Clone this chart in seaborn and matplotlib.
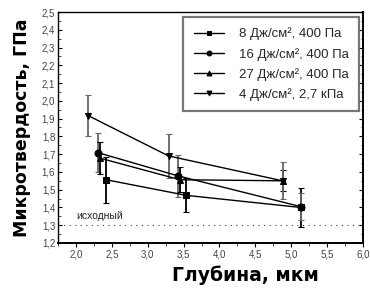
import matplotlib
matplotlib.use("Agg")
import matplotlib.pyplot as plt
import seaborn as sns
import pandas as pd
from matplotlib.ticker import MultipleLocator, FuncFormatter

sns.set_theme(style="ticks")
plt.rcParams['font.family'] = ['Liberation Sans', 'DejaVu Sans']

labels = ["8 Дж/см², 400 Па", "16 Дж/см², 400 Па",
          "27 Дж/см², 400 Па", "4 Дж/см², 2,7 кПа"]
x1 = [2.42, 3.54, 5.13]; y1 = [1.556, 1.468, 1.40]; e1 = [0.13, 0.095, 0.11]
x2 = [2.31, 3.42, 5.13]; y2 = [1.708, 1.578, 1.405]; e2 = [0.11, 0.12, 0.075]
x3 = [2.33, 3.45, 4.88]; y3 = [1.678, 1.556, 1.55]; e3 = [0.09, 0.07, 0.06]
x4 = [2.17, 3.29, 4.88]; y4 = [1.917, 1.69, 1.55]; e4 = [0.115, 0.125, 0.105]
baseline = 1.3

xs = [x1, x2, x3, x4]; ys = [y1, y2, y3, y4]; es = [e1, e2, e3, e4]
rows = []
for lab, xx, yy, ee in zip(labels, xs, ys, es):
    for a, b, c in zip(xx, yy, ee):
        rows.append({"x": a, "y": b, "err": c, "series": lab})
df = pd.DataFrame(rows)

fig = plt.figure(figsize=(3.7, 2.91), dpi=100)
ax = fig.add_axes([58 / 370, 1 - 243 / 291, 305 / 370, 231 / 291])

ecolors = ["black", "#666666", "black", "#666666"]
for lab, ec in zip(labels, ecolors):
    d = df[df.series == lab]
    ax.errorbar(d.x, d.y, yerr=d.err, fmt='none', ecolor=ec, elinewidth=1.3,
                capsize=2.2, capthick=0.8, zorder=2)

markers = {labels[0]: 's', labels[1]: 'o', labels[2]: '^', labels[3]: 'v'}
sns.lineplot(data=df, x="x", y="y", hue="series", style="series",
             markers=markers, dashes=False, sort=False, estimator=None,
             palette=["black"] * 4, linewidth=1.0, markersize=5,
             markeredgecolor="black", ax=ax, zorder=3)

ax.axhline(baseline, color="#444444", linestyle=(0, (1, 4)), linewidth=0.8)
ax.text(2.0, 1.322, "исходный", fontsize=7.5, color="#222222", va="bottom")

ax.set_xlim(1.75, 6.0)
ax.set_ylim(1.2, 2.5)
ax.xaxis.set_major_locator(MultipleLocator(0.5))
ax.xaxis.set_minor_locator(MultipleLocator(0.25))
ax.yaxis.set_major_locator(MultipleLocator(0.1))
ax.yaxis.set_minor_locator(MultipleLocator(0.05))
fmt = FuncFormatter(lambda v, p: f"{v:.1f}".replace(".", ","))
ax.xaxis.set_major_formatter(fmt)
ax.yaxis.set_major_formatter(fmt)
ax.tick_params(axis='both', which='major', labelsize=7, length=3, width=0.8,
               colors="black", labelcolor="#444444", pad=2, direction='out')
ax.tick_params(axis='both', which='minor', length=1.8, width=0.6, direction='out')
ax.tick_params(axis='y', which='both', right=True, direction='in')
ax.tick_params(axis='y', which='both', left=True)
for s in ax.spines.values():
    s.set_linewidth(1.0)
    s.set_color("black")
ax.spines['bottom'].set_linewidth(1.4)
ax.spines['right'].set_linewidth(1.4)

ax.set_xlabel("Глубина, мкм", fontsize=13.5, fontweight="bold", color="black",
              family=['DejaVu Sans'])
ax.xaxis.set_label_coords((245 - 58) / 305, -0.095)
ax.set_ylabel("Микротвердость, ГПа", fontsize=12.5, fontweight="bold", labelpad=8,
              color="black", family=['DejaVu Sans'])

leg = ax.legend(loc="upper right", fontsize=9.5, frameon=True, fancybox=False,
                edgecolor="#555555", handlelength=2.3, handletextpad=1.1,
                markerscale=0.7, borderpad=0.8, labelspacing=0.55,
                borderaxespad=0, bbox_to_anchor=(0.987, 0.978))
leg.get_frame().set_linewidth(1.6)

fig.savefig("out.png", dpi=100)
